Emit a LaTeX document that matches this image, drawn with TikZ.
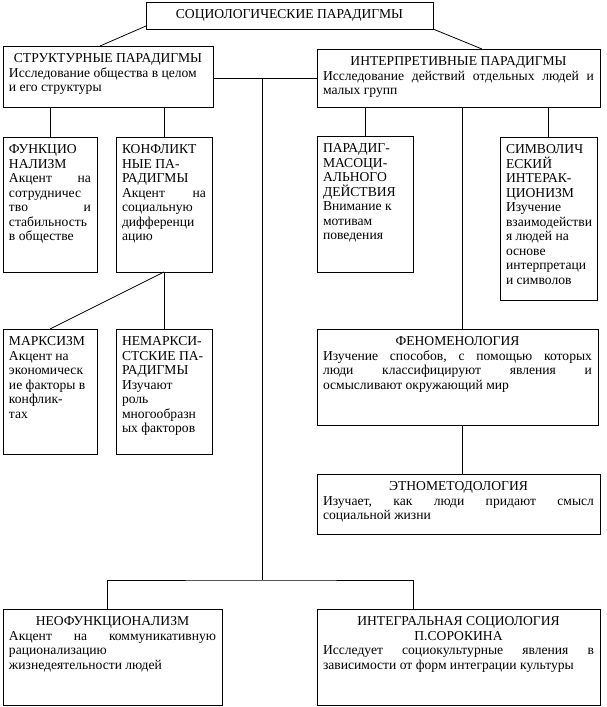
\documentclass[tikz,border=0pt]{standalone}
\usepackage{fontspec}
\setmainfont{Liberation Serif}
\tikzset{
  box/.style={draw, line width=0.8pt, inner xsep=6pt, inner ysep=3pt, anchor=north west, outer sep=0pt},
  conn/.style={line width=0.8pt},
}
\newcommand\bx[6]{%
  \pgfmathsetmacro\bxw{#4-#2-12}%
  \pgfmathsetmacro\bxh{#5-#3-6}%
  \node[box] (#1) at (#2,#3) {\parbox[t][\bxh pt][t]{\bxw pt}{\raggedright\fontsize{13.6}{14.5}\selectfont\rule{0pt}{13.5pt}#6}};}
\newcommand\ctr[1]{\makebox[\linewidth]{#1}}
\begin{document}
\begin{tikzpicture}[x=1pt,y=-1pt]
\useasboundingbox (0,0) rectangle (607,707);
\bx{top}{146}{2}{433}{29}{\ctr{СОЦИОЛОГИЧЕСКИЕ ПАРАДИГМЫ}}
\bx{struct}{3}{46}{213}{107}{\ctr{СТРУКТУРНЫЕ ПАРАДИГМЫ}\\
Исследование общества в целом\\
и его структуры}
\bx{interp}{317}{49}{600}{107}{\ctr{ИНТЕРПРЕТИВНЫЕ ПАРАДИГМЫ}\\
Исследование\hfill действий\hfill отдельных\hfill людей\hfill и\\
малых групп}
\bx{func}{3}{137}{97}{272}{ФУНКЦИО\\
НАЛИЗМ\\
Акцент\hfill на\\
сотрудничес\\
тво\hfill и\\
стабильность\\
в обществе}
\bx{konf}{116}{137}{212}{272}{КОНФЛИКТ\\
НЫЕ ПА-\\
РАДИГМЫ\\
Акцент\hfill на\\
социальную\\
дифференци\\
ацию}
\bx{marx}{3}{329}{97}{454}{МАРКСИЗМ\\
Акцент на\\
экономическ\\
ие факторы в\\
конфлик-\\
тах}
\bx{nemark}{116}{329}{212}{454}{НЕМАРКСИ-\\
СТСКИЕ ПА-\\
РАДИГМЫ\\
Изучают\\
роль\\
многообразн\\
ых факторов}
\bx{parad}{317}{136}{413}{272}{ПАРАДИГ-\\
МАСОЦИ-\\
АЛЬНОГО\\
ДЕЙСТВИЯ\\
Внимание к\\
мотивам\\
поведения}
\bx{simv}{500}{137}{597}{300}{СИМВОЛИЧ\\
ЕСКИЙ\\
ИНТЕРАК-\\
ЦИОНИЗМ\\
Изучение\\
взаимодействи\\
я людей на\\
основе\\
интерпретаци\\
и символов}
\bx{feno}{317}{329}{598}{425}{\ctr{ФЕНОМЕНОЛОГИЯ}\\
Изучение\hfill способов,\hfill с\hfill помощью\hfill которых\\
люди\hfill классифицируют\hfill явления\hfill и\\
осмысливают окружающий мир}
\bx{etno}{317}{474}{600}{534}{\ctr{ЭТНОМЕТОДОЛОГИЯ}\\
Изучает,\hfill как\hfill люди\hfill придают\hfill смысл\\
социальной жизни}
\bx{neo}{3}{609}{222}{705}{\ctr{НЕОФУНКЦИОНАЛИЗМ}\\
Акцент\hfill на\hfill коммуникативную\\
рационализацию\\
жизнедеятельности людей}
\bx{integ}{317}{609}{600}{705}{\ctr{ИНТЕГРАЛЬНАЯ СОЦИОЛОГИЯ}\\
\ctr{П.СОРОКИНА}\\
Исследует\hfill социокультурные\hfill явления\hfill в\\
зависимости от форм интеграции культуры}
% connectors
\draw[conn] ([yshift=3pt]top.south west) -- ([xshift=97pt]struct.north west);
\draw[conn] (top.south east) -- ([xshift=165pt]interp.north west);
\coordinate (j1) at (struct.east |- interp.west);
\coordinate (j2) at ([xshift=-55pt]interp.west);
\coordinate (j3) at ([xshift=-55pt]interp.west |- neo.north);
\coordinate (j4) at ([yshift=29pt]j3);
\draw[conn] (j1) -- (interp.west);
\draw[conn] (j2) -- (j4);
\draw[conn] ([xshift=104pt]neo.north west) |- (j4) -| ([xshift=96pt]integ.north west);
\draw[conn] (func.north) -- (func.north |- struct.south);
\draw[conn] (konf.north) -- (konf.north |- struct.south);
\draw[conn] (konf.south) -- (nemark.north);
\draw[conn] (konf.south) -- (marx.north);
\draw[conn] (parad.north) -- (parad.north |- interp.south);
\draw[conn] (simv.north) -- (simv.north |- interp.south);
\coordinate (f1) at ([xshift=145pt]feno.north west);
\draw[conn] (f1) -- (f1 |- interp.south);
\draw[conn] (f1 |- feno.south) -- (f1 |- etno.north);
\end{tikzpicture}
\end{document}
